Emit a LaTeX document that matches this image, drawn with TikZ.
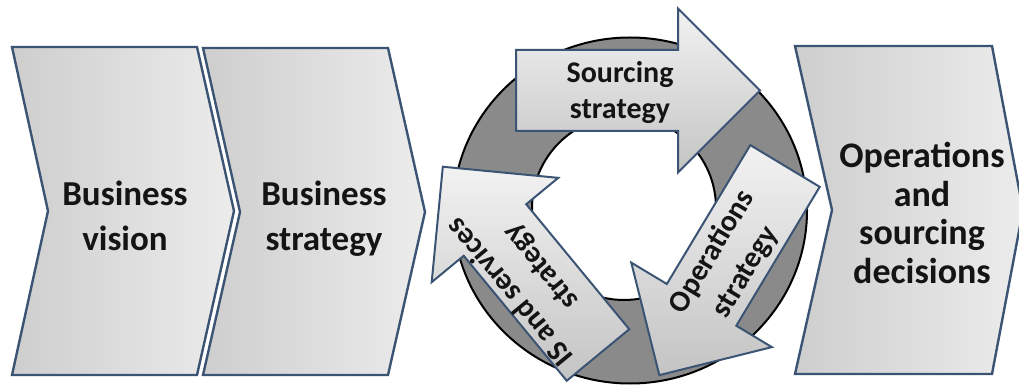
\documentclass[tikz,border=0pt]{standalone}
\usepackage{fontspec}
\setmainfont{Carlito}
\definecolor{edgeblue}{RGB}{59,84,115}
\definecolor{chevleft}{RGB}{206,206,206}
\definecolor{chevright}{RGB}{236,236,236}
\definecolor{arrtop}{RGB}{242,242,242}
\definecolor{arrbot}{RGB}{196,196,196}
\definecolor{ringgray}{RGB}{138,138,138}
\definecolor{ringlight}{RGB}{178,178,178}
\definecolor{textblack}{RGB}{20,20,20}
\pgfdeclareradialshading{ringshade}{\pgfpoint{0bp}{0bp}}{color(0bp)=(ringgray); color(26bp)=(ringgray); color(41bp)=(ringgray); color(47bp)=(ringlight); color(50bp)=(ringlight)}
\begin{document}
\begin{tikzpicture}[x=1pt,y=-1pt,
  chevron/.style={draw=edgeblue, line width=2.4pt, line join=miter, left color=chevleft, right color=chevright},
  arrowshape/.style={draw=edgeblue, line width=2pt, line join=miter, top color=arrtop, bottom color=arrbot},
  bigtext/.style={font=\bfseries\fontsize{35}{45}\selectfont, align=center, text=textblack, inner sep=0pt},
  steptext/.style={font=\bfseries\fontsize{36}{38.4}\selectfont, align=center, text=textblack, inner sep=0pt},
  arrtext/.style={font=\bfseries\fontsize{30}{36}\selectfont, align=center, text=textblack, inner sep=0pt},
  tilttext/.style={font=\bfseries\fontsize{30}{39}\selectfont, align=center, text=textblack, inner sep=0pt},
  bigarrow/.pic={\path[arrowshape] (0,-40.5) -- (162,-40.5) -- (162,-82) -- (244,0) -- (162,82) -- (162,40.5) -- (0,40.5) -- cycle;}]
\useasboundingbox (0,0) rectangle (1019,387);

% chevrons of the process chain
\path[chevron] (12,47) -- (197,47) -- (234,211) -- (197,375) -- (12,375) -- (48,211) -- cycle;
\path[chevron] (203,48) -- (388,48) -- (425,212) -- (388,375) -- (203,375) -- (240,212) -- cycle;
\path[chevron] (795,46) -- (992,46) -- (1023,210) -- (992,374) -- (795,374) -- (832,210) -- cycle;

% ring behind the cycle of strategies
\coordinate (ringc) at (630,210.5);
\coordinate (holec) at (624,208);
\shade[shading=ringshade, even odd rule] (ringc) ellipse[x radius=177pt, y radius=173pt] (holec) circle[radius=92pt];
\draw[black, line width=2pt] (ringc) ellipse[x radius=177pt, y radius=173pt];
\draw[black, line width=2pt] (holec) circle[radius=92pt];

% the three strategy arrows
\pic at (516,90.5) {bigarrow};
\pic[rotate=239] at (785,166) {bigarrow};
\pic[rotate=129.5] at (598,355) {bigarrow};

% labels
\node[bigtext] (vision) at (125,216) {Business\\vision};
\node[bigtext] (bstrat) at (324,218.5) {Business\\strategy};
\node[steptext] (decide) at (922,213) {Operations\\and\\sourcing\\decisions};
\node[arrtext] (source) at (620,93) {Sourcing\\strategy};
\node[tilttext, rotate=59] (ops) at (729,262) {Operations\\strategy};
\node[tilttext, rotate=129.5] (isserv) at (526,279) {IS and services\\strategy};
\end{tikzpicture}
\end{document}
